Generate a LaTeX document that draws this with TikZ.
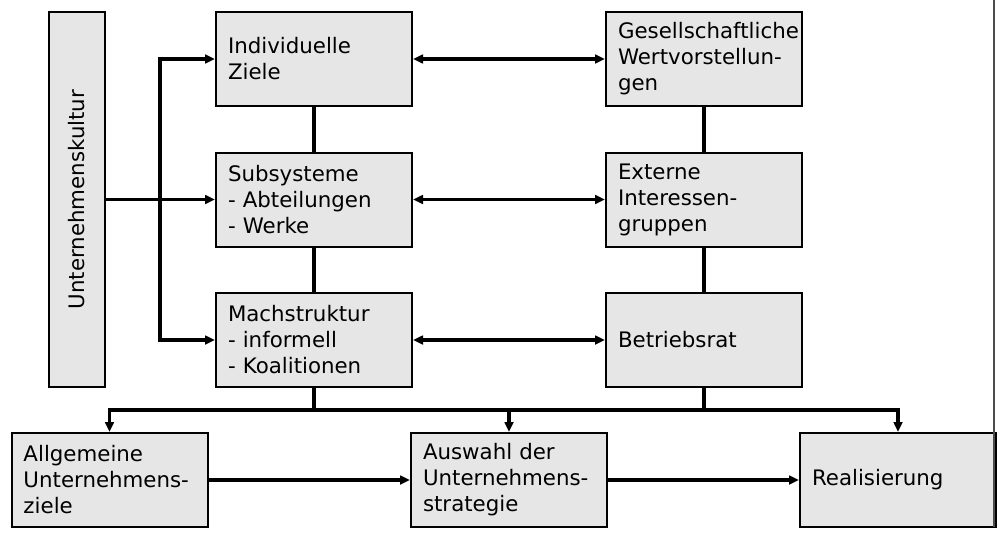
\documentclass[tikz,border=0pt]{standalone}
\usepackage{fontspec}
\setmainfont{DejaVu Sans}
\usetikzlibrary{arrows.meta}
\hyphenpenalty=10000
\exhyphenpenalty=10000
\definecolor{boxfill}{HTML}{E6E6E6}
\begin{document}
\begin{tikzpicture}[x=0.75pt,y=-0.75pt,
  box/.style={draw=black, line width=1.5pt, fill=boxfill, rectangle,
    minimum width=147pt, minimum height=70.5pt, inner xsep=9pt, inner ysep=0pt,
    text width=129pt, align=left, font=\fontsize{16}{19.5}\selectfont},
  conn/.style={line width=2.3pt},
  arr/.style={conn, -{Triangle[length=7.5pt,width=6.5pt]}},
  dbl/.style={conn, {Triangle[length=7.5pt,width=6.5pt]}-{Triangle[length=7.5pt,width=6.5pt]}}]
\useasboundingbox (0,0) rectangle (1002,539);
% boxes
\node[box, rotate=90, minimum width=281.25pt, minimum height=42pt, text width=, align=center] (uk) at (77,199.5) {Unternehmenskultur};
\node[box] (ind) at (314,59) {Individuelle\\Ziele};
\node[box] (sub) at (314,199.5) {Subsysteme\\- Abteilungen\\- Werke};
\node[box] (mach) at (314,340) {Machstruktur\\- informell\\- Koalitionen};
\node[box] (ges) at (704,59) {Gesellschaftliche\\Wertvorstellun-\\gen};
\node[box] (ext) at (704,199.5) {Externe\\Interessen-\\gruppen};
\node[box] (bet) at (704,340) {Betriebsrat};
\node[box] (allg) at (109.5,480) {Allgemeine\\Unternehmens-\\ziele};
\node[box] (ausw) at (509,480) {Auswahl der\\Unternehmens-\\strategie};
\node[box, minimum width=145.5pt] (real) at (898,480) {Realisierung};
% right frame line
\draw[black!70, line width=1pt] (994,0) -- (994,527);
% left connectors
\coordinate (j) at (160,199.5);
\draw[arr] (uk.south) -- (sub.west);
\draw[arr] (j) |- (ind.west);
\draw[arr] (j) |- (mach.west);
% vertical links
\draw[conn] (ind.south) -- (sub.north);
\draw[conn] (sub.south) -- (mach.north);
\draw[conn] (ges.south) -- (ext.north);
\draw[conn] (ext.south) -- (bet.north);
% horizontal double arrows
\draw[dbl] (ind.east) -- (ges.west);
\draw[dbl] (sub.east) -- (ext.west);
\draw[dbl] (mach.east) -- (bet.west);
% bottom bus
\coordinate (busR) at (898,410);
\draw[dbl] (allg.north) |- (busR) -- (real.north);
\draw[conn] (mach.south) -- (mach.south |- busR);
\draw[conn] (bet.south) -- (bet.south |- busR);
\draw[arr] (ausw.north |- busR) -- (ausw.north);
% bottom flow
\draw[arr] (allg.east) -- (ausw.west);
\draw[arr] (ausw.east) -- (real.west);
\end{tikzpicture}
\end{document}
